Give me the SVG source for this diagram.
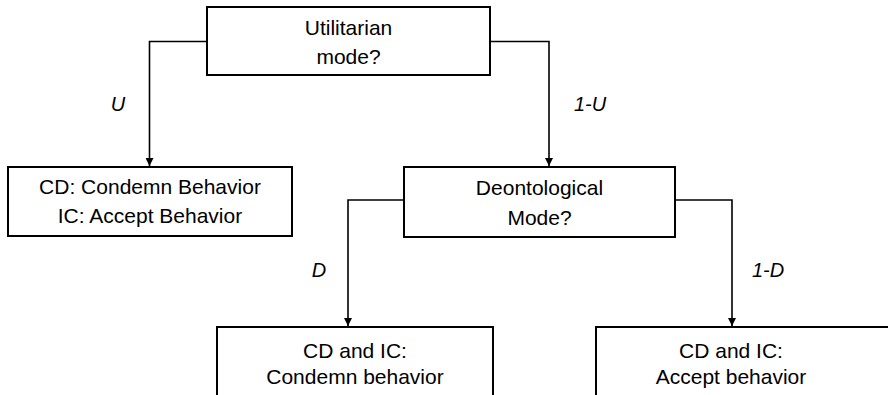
<svg xmlns="http://www.w3.org/2000/svg" width="888" height="395" viewBox="0 0 888 395">
<style>
.box{fill:#fff;stroke:#000;stroke-width:2}
.t{font-family:"Liberation Sans",Arial,sans-serif;font-size:21px;fill:#000;text-anchor:middle}
.lbl{font-family:"Liberation Sans",Arial,sans-serif;font-size:20px;font-style:italic;fill:#000;text-anchor:middle}
.c{fill:none;stroke:#000;stroke-width:1.6}
</style>
<defs>
<marker id="ah" viewBox="0 0 10 10" refX="10" refY="5" markerWidth="8" markerHeight="8" markerUnits="userSpaceOnUse" orient="auto">
<path d="M0,0 L10,5 L0,10 z" fill="#000"/>
</marker>
</defs>
<rect width="888" height="395" fill="#fff"/>
<g id="connectors">
<path class="c" d="M207,41.5 H149.5 V166" marker-end="url(#ah)"/>
<path class="c" d="M490,41.5 H549 V166" marker-end="url(#ah)"/>
<path class="c" d="M404,200 H348 V326" marker-end="url(#ah)"/>
<path class="c" d="M675,200 H732 V326" marker-end="url(#ah)"/>
<text class="lbl" x="118" y="111">U</text>
<text class="lbl" x="590" y="111">1-U</text>
<text class="lbl" x="319" y="277">D</text>
<text class="lbl" x="768" y="277">1-D</text>
</g>
<g id="utilitarian">
<rect class="box" x="207" y="7" width="283" height="68"/>
<text class="t" x="348.5" y="35">Utilitarian</text>
<text class="t" x="348.5" y="64">mode?</text>
</g>
<g id="cd-ic-left">
<rect class="box" x="8" y="167" width="284" height="69"/>
<text class="t" x="150" y="194">CD: Condemn Behavior</text>
<text class="t" x="150" y="223">IC: Accept Behavior</text>
</g>
<g id="deontological">
<rect class="box" x="404" y="167" width="271" height="70"/>
<text class="t" x="539.5" y="195">Deontological</text>
<text class="t" x="539.5" y="225">Mode?</text>
</g>
<g id="condemn">
<rect class="box" x="217" y="327" width="276" height="100"/>
<text class="t" x="355" y="358">CD and IC:</text>
<text class="t" x="355" y="384">Condemn behavior</text>
</g>
<g id="accept">
<rect class="box" x="596" y="327" width="320" height="100"/>
<text class="t" x="731" y="358">CD and IC:</text>
<text class="t" x="731" y="384">Accept behavior</text>
</g>
</svg>
